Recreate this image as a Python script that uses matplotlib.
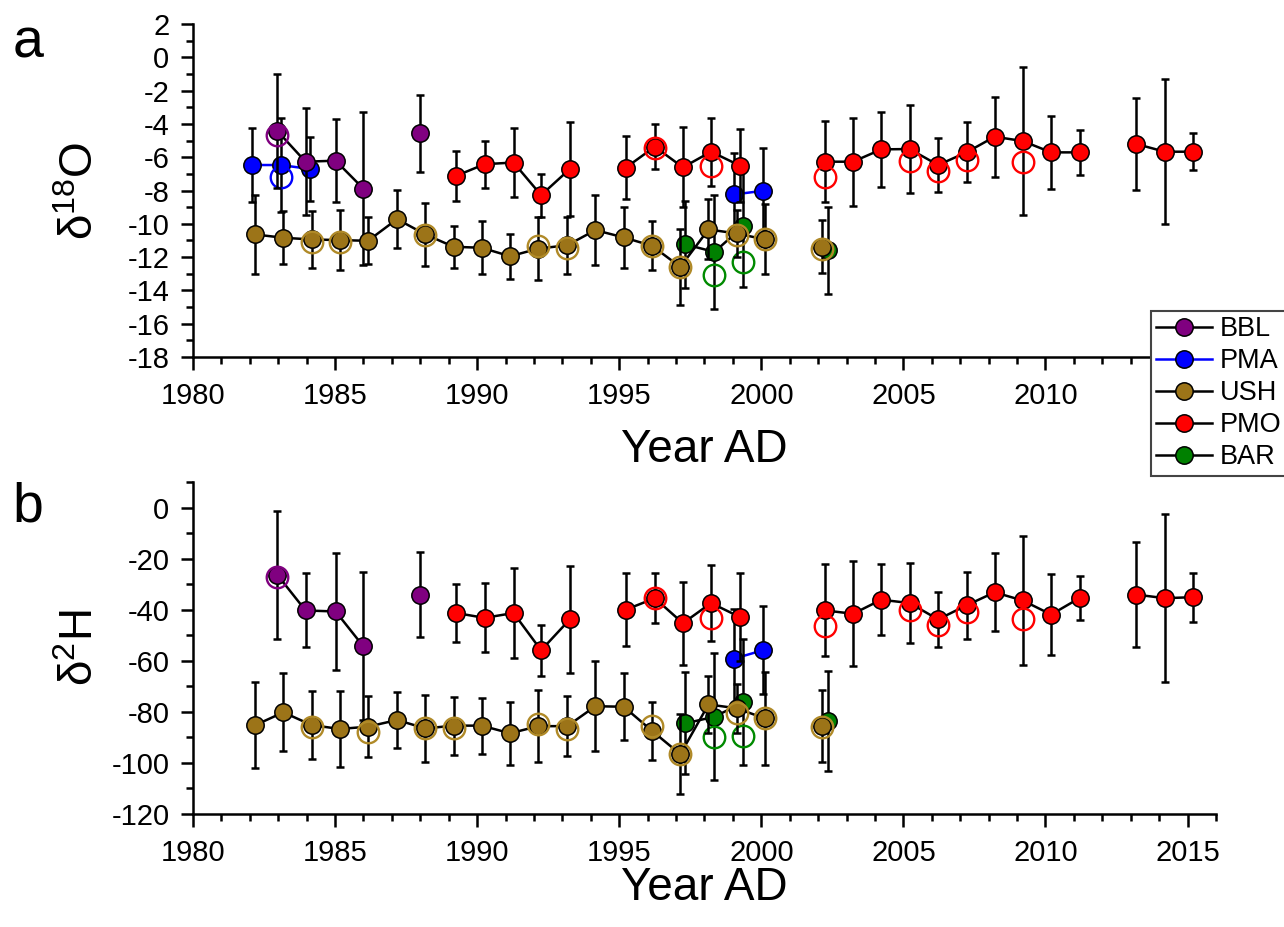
import numpy as np
import matplotlib
matplotlib.use("Agg")
import matplotlib.pyplot as plt
from matplotlib.lines import Line2D
from matplotlib.ticker import MultipleLocator

plt.rcParams['font.family'] = ['Liberation Sans', 'DejaVu Sans']
plt.rcParams['mathtext.fontset'] = 'custom'
plt.rcParams['mathtext.rm'] = 'Liberation Sans'
plt.rcParams['mathtext.it'] = 'Liberation Sans'
plt.rcParams['mathtext.bf'] = 'Liberation Sans'
plt.rcParams['axes.unicode_minus'] = False

nan = np.nan

# ---------------- data ----------------
series_names = ["BBL", "PMA", "USH", "PMO", "BAR"]

# BBL
bbl_x = [1982.97, 1983.96, 1985.02, 1985.99, 1987.0, 1987.98]
bbl_o18 = [-4.43, -6.27, -6.21, -7.88, nan, -4.57]
bbl_o18_err = [3.4, 3.2, 2.5, 4.6, nan, 2.3]
bbl_h2 = [-26.4, -40.3, -40.7, -54.3, nan, -34.1]
bbl_h2_err = [25, 14.5, 23, 29, nan, 16.5]

# PMA
pma_x = [1982.09, 1983.09, 1984.12, 1990.0, 1999.03, 2000.05]
pma_o18 = [-6.47, -6.47, -6.71, nan, -8.24, -8.02]
pma_o18_err = [2.2, 2.8, 1.9, nan, 2.47, 2.6]
pma_h2 = [nan, nan, nan, nan, -59.2, -55.9]
pma_h2_err = [nan, nan, nan, nan, 19.6, 17.3]

# USH
ush_x = [1982.19, 1983.18, 1984.18, 1985.17, 1986.16, 1987.18, 1988.18,
         1989.17, 1990.16, 1991.16, 1992.15, 1993.17, 1994.16, 1995.16,
         1996.15, 1997.15, 1998.14, 1999.13, 2000.13, 2001.13, 2002.13]
ush_o18 = [-10.64, -10.84, -10.94, -10.98, -11.02, -9.72, -10.64,
           -11.38, -11.44, -11.95, -11.49, -11.29, -10.38, -10.82,
           -11.32, -12.59, -10.34, -10.58, -10.94, nan, -11.38]
ush_o18_err = [2.35, 1.6, 1.7, 1.8, 1.4, 1.75, 1.9, 1.27, 1.6, 1.35, 1.9,
               1.7, 2.1, 1.85, 1.47, 2.26, 1.8, 1.4, 2.1, nan, 1.6]
ush_h2 = [-85.2, -80.2, -85.2, -86.7, -85.8, -83.2, -86.5, -85.4, -85.4,
          -88.4, -85.6, -85.6, -77.8, -78.0, -87.4, -96.6, -77.1, -78.6,
          -82.6, nan, -85.6]
ush_h2_err = [16.7, 15.3, 13.2, 15, 12, 11, 13.2, 11.4, 11, 12.3, 14, 11.8,
              17.7, 13.2, 11.3, 15.7, 11.2, 9.5, 18.3, nan, 14]

# PMO
pmo_x = [1989.26, 1990.26, 1991.28, 1992.25, 1993.26, 1994.25, 1995.23,
         1996.25, 1997.24, 1998.23, 1999.25, 2000.25, 2001.25, 2002.25,
         2003.23, 2004.22, 2005.22, 2006.22, 2007.22, 2008.21, 2009.20,
         2010.20, 2011.22, 2012.20, 2013.20, 2014.20, 2015.19]
pmo_o18 = [-7.12, -6.42, -6.32, -8.28, -6.71, nan, -6.63, -5.37, -6.61,
           -5.67, -6.51, nan, nan, -6.27, -6.27, -5.53, -5.51, -6.47, -5.71,
           -4.77, -5.03, -5.71, -5.71, nan, -5.21, -5.67, -5.67]
pmo_o18_err = [1.5, 1.4, 2.1, 1.3, 2.8, nan, 1.9, 1.35, 2.4, 2.05, 2.2, nan,
               nan, 2.45, 2.65, 2.25, 2.65, 1.65, 1.8, 2.4, 4.45, 2.2, 1.33,
               nan, 2.75, 4.35, 1.1]
pmo_h2 = [-41.3, -43.2, -41.3, -55.9, -43.8, nan, -40.0, -35.5, -45.3,
          -37.4, -42.9, nan, nan, -40.3, -41.6, -36.1, -37.4, -43.8, -38.3,
          -33.2, -36.4, -41.9, -35.3, nan, -34.1, -35.5, -35.1]
pmo_h2_err = [11.2, 13.5, 17.7, 10, 21, nan, 14.3, 9.8, 16.2, 15, 17.3, nan,
              nan, 18, 20.6, 13.8, 15.5, 10.9, 13, 15.3, 25.3, 15.8, 8.6,
              nan, 20.5, 32.8, 9.6]

# BAR
bar_x = [1997.33, 1998.35, 1999.37, 2000.37, 2001.37, 2002.36]
bar_o18 = [-11.24, -11.69, -10.14, nan, nan, -11.59]
bar_o18_err = [2.6, 3.4, 3.65, nan, nan, 2.6]
bar_h2 = [-84.5, -81.9, -76.3, nan, nan, -83.5]
bar_h2_err = [20, 24.8, 24.7, nan, nan, 19.6]

# open circles (second measurement)
bbl_open_x = [1982.97]
bbl_open_o18 = [-4.67]
bbl_open_h2x = [1982.97]
bbl_open_h2 = [-27.3]

pma_open_x = [1983.09]
pma_open_o18 = [-7.18]

ush_open_o18x = [1984.18, 1985.17, 1988.18, 1992.15, 1993.17, 1996.15,
                 1997.15, 1999.13, 2000.13, 2002.13]
ush_open_o18 = [-11.1, -11.08, -10.68, -11.35, -11.44, -11.32, -12.6,
                -10.67, -10.94, -11.53]
ush_open_h2x = [1984.18, 1986.16, 1988.18, 1989.17, 1992.15, 1993.17,
                1996.15, 1997.15, 1999.13, 2000.13, 2002.13]
ush_open_h2 = [-86.0, -87.8, -86.5, -86.2, -84.9, -86.7, -85.4, -96.6,
               -80.3, -82.6, -86.0]

pmo_open_x = [1996.25, 1998.23, 2002.25, 2005.22, 2006.22, 2007.22, 2009.20]
pmo_open_o18 = [-5.43, -6.51, -7.17, -6.23, -6.83, -6.18, -6.27]
pmo_open_h2 = [-35.3, -43.3, -46.4, -40.3, -45.9, -41.0, -43.8]

bar_open_x = [1998.35, 1999.37]
bar_open_o18 = [-13.09, -12.29]
bar_open_h2 = [-90.0, -89.5]

# ---------------- style ----------------
C = {"BBL": "#800080", "PMA": "#0000ff", "USH": "#9c7418",
     "PMO": "#ff0000", "BAR": "#008000"}
C_OPEN = {"BBL": "#800080", "PMA": "#0000ff", "USH": "#b08a28",
          "PMO": "#ff0000", "BAR": "#008a00"}
LINEC = {"BBL": "k", "PMA": "#0000ff", "USH": "k", "PMO": "k", "BAR": "k"}

FS_TICK = 21
FS_LAB = 33
FS_LEG = 19.5
MS = 12.5
MS_OPEN = 15.5

fig = plt.figure(figsize=(12.84, 9.27), dpi=100)
W, H = 1284, 927
ax1 = fig.add_axes([193 / W, 1 - 357 / H, (1216 - 193) / W, (357 - 24) / H])
ax2 = fig.add_axes([193 / W, 1 - 814 / H, (1216 - 193) / W, (814 - 482) / H])


def draw(ax, name, x, y, e, z):
    ax.errorbar(x, y, yerr=e, fmt='none', ecolor='k', elinewidth=1.8,
                capsize=3.2, capthick=1.8, zorder=z)
    ax.plot(x, y, '-', color=LINEC[name], lw=1.8, zorder=z + 0.1)
    ax.plot(x, y, 'o', ms=MS, mfc=C[name], mec='k', mew=1.1,
            zorder=z + 0.2, linestyle='none')


def draw_open(ax, name, x, y, z):
    ax.plot(x, y, 'o', ms=MS_OPEN, mfc='none', mec=C_OPEN[name], mew=1.7,
            linestyle='none', zorder=z + 0.3)


# top panel
draw(ax1, "PMA", pma_x, pma_o18, pma_o18_err, 2)
draw_open(ax1, "PMA", pma_open_x, pma_open_o18, 2)
draw(ax1, "BBL", bbl_x, bbl_o18, bbl_o18_err, 3)
draw_open(ax1, "BBL", bbl_open_x, bbl_open_o18, 3)
draw(ax1, "BAR", bar_x, bar_o18, bar_o18_err, 4)
draw_open(ax1, "BAR", bar_open_x, bar_open_o18, 4)
draw(ax1, "USH", ush_x, ush_o18, ush_o18_err, 5)
draw_open(ax1, "USH", ush_open_o18x, ush_open_o18, 5)
draw(ax1, "PMO", pmo_x, pmo_o18, pmo_o18_err, 6)
draw_open(ax1, "PMO", pmo_open_x, pmo_open_o18, 6)

# bottom panel
draw(ax2, "PMA", pma_x, pma_h2, pma_h2_err, 2)
draw(ax2, "BBL", bbl_x, bbl_h2, bbl_h2_err, 3)
draw_open(ax2, "BBL", bbl_open_h2x, bbl_open_h2, 3)
draw(ax2, "BAR", bar_x, bar_h2, bar_h2_err, 4)
draw_open(ax2, "BAR", bar_open_x, bar_open_h2, 4)
draw(ax2, "USH", ush_x, ush_h2, ush_h2_err, 5)
draw_open(ax2, "USH", ush_open_h2x, ush_open_h2, 5)
draw(ax2, "PMO", pmo_x, pmo_h2, pmo_h2_err, 6)
draw_open(ax2, "PMO", pmo_open_x, pmo_open_h2, 6)

for ax in (ax1, ax2):
    ax.set_xlim(1980, 2016)
    ax.xaxis.set_major_locator(MultipleLocator(5))
    ax.xaxis.set_minor_locator(MultipleLocator(1))
    for s in ('top', 'right'):
        ax.spines[s].set_visible(False)
    for s in ('left', 'bottom'):
        ax.spines[s].set_linewidth(1.8)
    ax.tick_params(which='major', direction='out', length=9, width=1.8,
                   labelsize=FS_TICK)
    ax.tick_params(axis='x', which='major', pad=9)
    ax.tick_params(axis='y', which='major', pad=8)
    ax.tick_params(which='minor', direction='out', length=5, width=1.8)
    ax.set_xlabel("Year AD", fontsize=FS_LAB)

ax1.set_ylim(-18, 2)
ax1.yaxis.set_major_locator(MultipleLocator(2))
ax1.yaxis.set_minor_locator(MultipleLocator(1))
ax2.set_ylim(-120, 10)
ax2.yaxis.set_major_locator(MultipleLocator(20))
ax2.yaxis.set_minor_locator(MultipleLocator(10))

ax1.set_ylabel(r"δ$^{\mathregular{18}}$O", fontsize=FS_LAB)
ax2.set_ylabel(r"δ$^{\mathregular{2}}$H", fontsize=FS_LAB)
ax1.yaxis.set_label_coords(-0.088, 0.5)
ax2.yaxis.set_label_coords(-0.088, 0.5)
ax1.xaxis.set_label_coords(0.5, -0.212)
ax2.xaxis.set_label_coords(0.5, -0.158)

fig.text(13 / W, 1 - 57 / H, "a", fontsize=40, ha='left', va='baseline')
fig.text(12 / W, 1 - 522 / H, "b", fontsize=40, ha='left', va='baseline')

handles = [Line2D([], [], color=LINEC[n], lw=1.8, marker='o', ms=MS,
                  mfc=C[n], mec='k', mew=1.1) for n in series_names]
leg = fig.legend(handles, series_names, loc='upper left',
                 bbox_to_anchor=(1151 / W, 1 - 311 / H), fontsize=FS_LEG,
                 frameon=True, fancybox=False, edgecolor='#444444',
                 framealpha=1.0,
                 handlelength=2.05, handletextpad=0.3, borderpad=0.2,
                 labelspacing=0.22, borderaxespad=0)
leg.get_frame().set_linewidth(1.5)
leg.set_zorder(20)

fig.savefig("out.png", dpi=100)
